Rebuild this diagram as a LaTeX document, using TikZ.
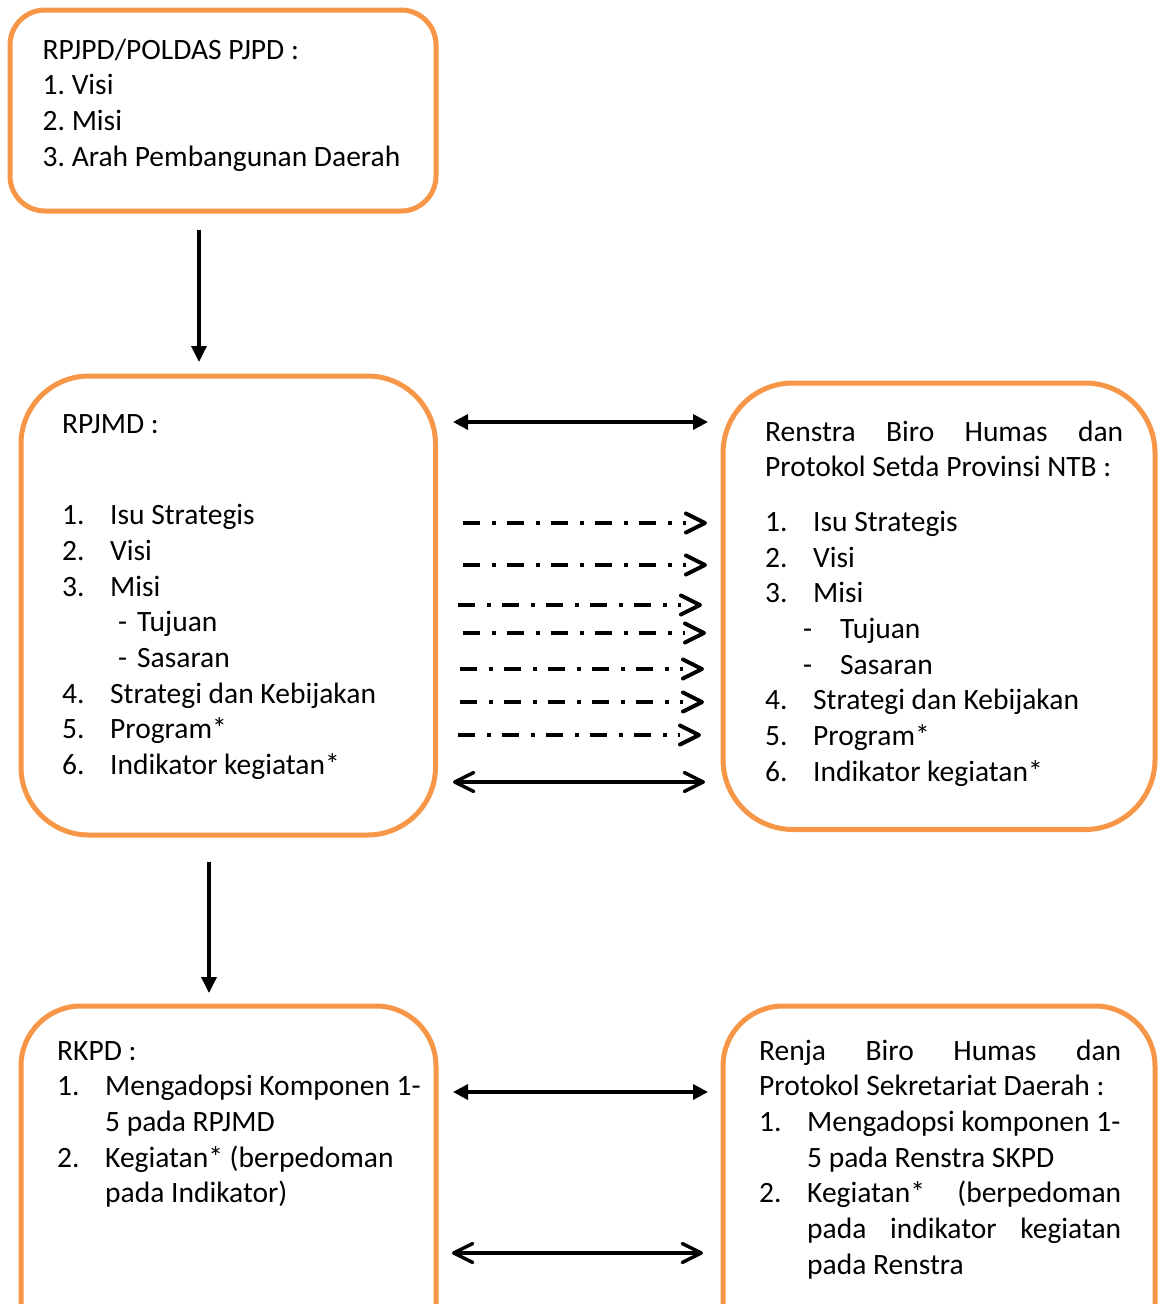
\documentclass[tikz,border=0pt]{standalone}
\usepackage{fontspec}
\setmainfont{Carlito}
\usetikzlibrary{arrows.meta}
\usetikzlibrary{calc}

\definecolor{boxorange}{RGB}{247,150,70}

\newcommand{\itm}[2]{\makebox[48pt][l]{#1}#2}
\newcommand{\jline}[2]{\makebox[#1][s]{#2}}
\newcommand{\fontspaces}{\spaceskip=0pt\relax\xspaceskip=0pt\relax}
\frenchspacing

\begin{document}
\begin{tikzpicture}[
        x=1pt, y=-1pt,
        box/.style={draw=boxorange, line width=5pt, rectangle, anchor=north west,
            inner sep=0pt, outer sep=0pt},
        txt/.style={anchor=base west, inner sep=0pt, text width=#1,
            font=\fontsize{29.5}{35.7}\selectfont,
            execute at begin node=\fontspaces},
        full/.style={line width=3.5pt,
            {Triangle[length=15pt,width=15pt]}-{Triangle[length=15pt,width=15pt]}},
        down/.style={line width=3.5pt, -{Triangle[length=16pt,width=15pt]}},
        open/.style={line width=3.5pt,
            {Straight Barb[length=19pt,width=19pt,round]}-{Straight Barb[length=19pt,width=19pt,round]}},
        openhead/.style={line width=4pt, -{Straight Barb[length=19pt,width=19pt,round]}},
        dashdot/.style={line width=4pt, dash pattern=on 17pt off 12pt on 3.5pt off 11.5pt},
    ]

    \useasboundingbox (0,0) rectangle (1158,1304);
    \clip (0,0) rectangle (1158,1304);

    % boxes
    \node[box, rounded corners=35pt, minimum width=426pt, minimum height=201pt] (rpjpd) at (10,10) {};
    \node[box, rounded corners=68pt, minimum width=414.5pt, minimum height=459pt] (rpjmd) at (21,376) {};
    \node[box, rounded corners=70pt, minimum width=432pt, minimum height=446.5pt] (renstra) at (723,383) {};
    \node[box, rounded corners=60pt, minimum width=415pt, minimum height=400pt] (rkpd) at (21,1006) {};
    \node[box, rounded corners=60pt, minimum width=432pt, minimum height=400pt] (renja) at (723,1006) {};

    % texts
    \node[txt=400pt] (rpjpdtext) at (42.5,59) {\fontspaces RPJPD/POLDAS PJPD :\\
        1. Visi\\
        2. Misi\\
        3. Arah Pembangunan Daerah};

    \node[txt=370pt] (rpjmdtext) at (62,433) {\fontspaces RPJMD :\\[56pt]
        \itm{1.}{Isu Strategis}\\
        \itm{2.}{Visi}\\
        \itm{3.}{Misi}\\
        \hspace*{56pt}\makebox[19pt][l]{-}Tujuan\\
        \hspace*{56pt}\makebox[19pt][l]{-}Sasaran\\
        \itm{4.}{Strategi dan Kebijakan}\\
        \itm{5.}{Program*}\\
        \itm{6.}{Indikator kegiatan*}};

    \node[txt=370pt] (renstratext) at (765,441) {\fontspaces\jline{358pt}{Renstra Biro Humas dan}\\
        Protokol Setda Provinsi NTB :\\[19pt]
        \itm{1.}{Isu Strategis}\\
        \itm{2.}{Visi}\\
        \itm{3.}{Misi}\\
        \hspace*{38pt}\makebox[37pt][l]{-}Tujuan\\
        \hspace*{38pt}\makebox[37pt][l]{-}Sasaran\\
        \itm{4.}{Strategi dan Kebijakan}\\
        \itm{5.}{Program*}\\
        \itm{6.}{Indikator kegiatan*}};

    \node[txt=370pt] (rkpdtext) at (57,1060) {\fontspaces RKPD :\\
        \itm{1.}{Mengadopsi Komponen 1-}\\
        \hspace*{48pt}5 pada RPJMD\\
        \itm{2.}{Kegiatan* (berpedoman}\\
        \hspace*{48pt}pada Indikator)};

    \node[txt=370pt] (renjatext) at (759,1060) {\fontspaces\jline{362pt}{Renja Biro Humas dan}\\
        Protokol Sekretariat Daerah :\\
        \itm{1.}{Mengadopsi komponen 1-}\\
        \hspace*{48pt}5 pada Renstra SKPD\\
        \itm{2.}{\jline{314pt}{Kegiatan* (berpedoman}}\\
        \hspace*{48pt}\jline{314pt}{pada indikator kegiatan}\\
        \hspace*{48pt}pada Renstra};

    % vertical arrows
    \coordinate (d1a) at (199,230);
    \coordinate (d1b) at (199,362);
    \coordinate (d2a) at (209,862);
    \coordinate (d2b) at (209,993);
    \draw[down] (d1a) -- (d1b);
    \draw[down] (d2a) -- (d2b);

    % horizontal arrows
    \coordinate (h1a) at (453,422);
    \coordinate (h1b) at (708,422);
    \coordinate (h2a) at (453,782);
    \coordinate (h2b) at (705,782);
    \coordinate (h3a) at (453,1092);
    \coordinate (h3b) at (708,1092);
    \coordinate (h4a) at (452,1253);
    \coordinate (h4b) at (703,1253);
    \draw[full] (h1a) -- (h1b);
    \draw[open] (h2a) -- (h2b);
    \draw[full] (h3a) -- (h3b);
    \draw[open] (h4a) -- (h4b);

    \foreach \i/\y/\xa/\xb in {1/523/463/707, 2/565/463/707, 3/605/458/702, 4/633/463/706,
                               5/669/460/704, 6/702/460/704, 7/735/458/701}
    {
        \coordinate (ds\i) at (\xa,\y);
        \coordinate (dt\i) at (\xb,\y);
        \draw[dashdot, shorten >=21pt] (ds\i) -- (dt\i);
        \draw[openhead] ($(dt\i)+(-2,0)$) -- (dt\i);
    }

\end{tikzpicture}
\end{document}
